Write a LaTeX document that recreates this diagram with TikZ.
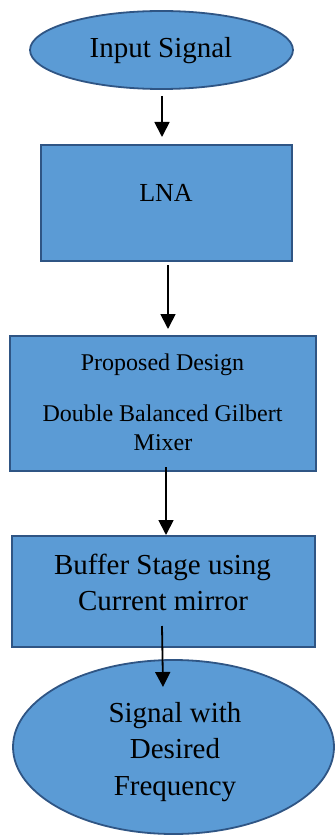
\documentclass[tikz,border=0pt]{standalone}
\usepackage{fontspec}
\setmainfont{Liberation Serif}
\usetikzlibrary{shapes.geometric,arrows.meta}
\definecolor{boxfill}{HTML}{5B9BD5}
\definecolor{boxline}{HTML}{2F5584}
\begin{document}
\begin{tikzpicture}[x=1pt,y=-1pt,
  shapebox/.style={draw=boxline,fill=boxfill,line width=1.8pt,inner sep=0pt},
  ovalbox/.style={shapebox,ellipse},
  rectbox/.style={shapebox,rectangle},
  lbl/.style={anchor=base,inner sep=0pt,text=black},
  big/.style={lbl,font=\fontsize{29}{35}\selectfont},
  mid/.style={lbl,font=\fontsize{26}{31}\selectfont},
  small/.style={lbl,font=\fontsize{24}{29}\selectfont},
  arr/.style={line width=1.8pt,-{Triangle[length=15pt,width=15pt]}}]
\useasboundingbox (0,0) rectangle (335,837);
% shapes
\node[ovalbox,minimum width=263pt,minimum height=78pt] (in) at (161.5,50) {};
\node[rectbox,minimum width=251pt,minimum height=116pt] (lna) at (166.5,203) {};
\node[rectbox,minimum width=306pt,minimum height=135pt] (mix) at (163,403.5) {};
\node[rectbox,minimum width=303pt,minimum height=111pt] (buf) at (163.5,591.5) {};
\node[ovalbox,minimum width=321pt,minimum height=174pt] (out) at (173.5,747) {};
% texts
\node[big] (t1) at (161,57.3) {Input Signal};
\node[mid] (t2) at (166,201.7) {LNA};
\node[small] (t3a) at (162.5,370) {Proposed Design};
\node[small] (t3b) at (162.5,421) {Double Balanced Gilbert};
\node[small] (t3c) at (163,450.7) {Mixer};
\node[big] (t4a) at (162.5,574) {Buffer Stage using};
\node[big] (t4b) at (163,610.7) {Current mirror};
\node[big] (t5a) at (175,722.7) {Signal with};
\node[big] (t5b) at (175,758.3) {Desired};
\node[big] (t5c) at (175,795) {Frequency};
% arrow end points
\coordinate (a1s) at (162,96);
\coordinate (a1e) at (162,137);
\coordinate (a2s) at (168,265);
\coordinate (a2e) at (168,329);
\coordinate (a3s) at (166,467);
\coordinate (a3e) at (166,535);
\coordinate (a4s) at (162,626);
\coordinate (a4e) at (163,687);
\draw[arr] (a1s) -- (a1e);
\draw[arr] (a2s) -- (a2e);
\draw[arr] (a3s) -- (a3e);
\draw[arr] (a4s) -- (a4e);
\end{tikzpicture}
\end{document}
